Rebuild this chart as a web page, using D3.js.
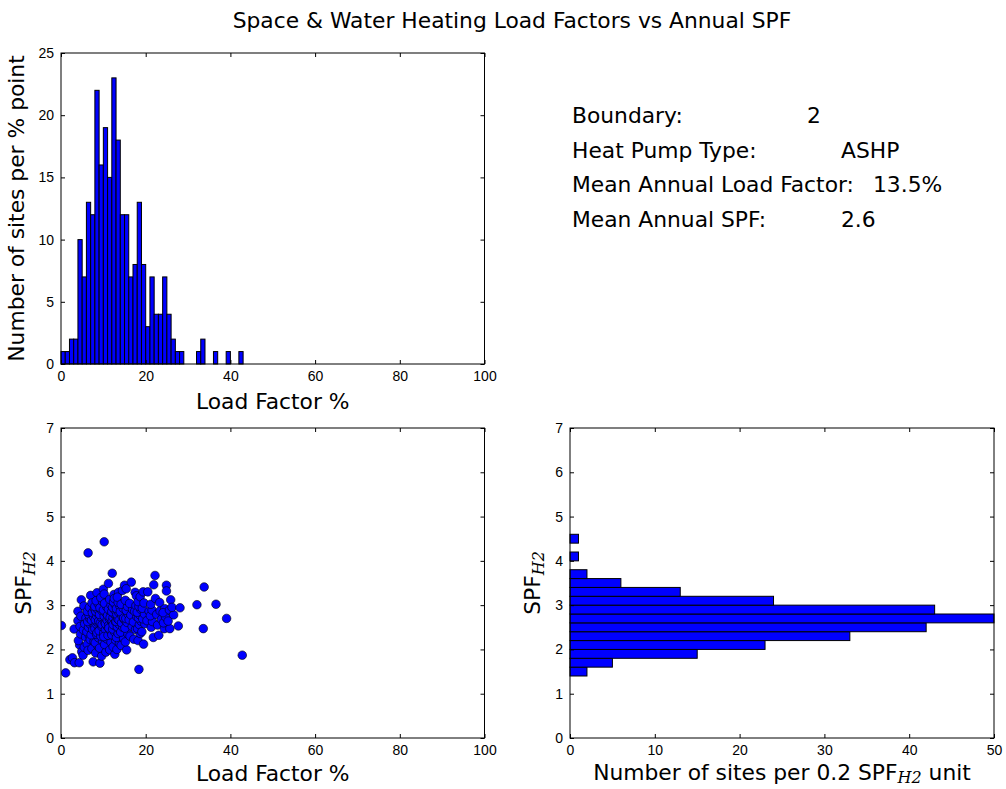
<!DOCTYPE html>
<html>
<head>
<meta charset="utf-8">
<script src="https://cdn.jsdelivr.net/npm/d3@7"></script>
<style>
  body { margin: 0; background: #fff; }
  svg { display: block; font-family: "DejaVu Sans", sans-serif; }
  .tick text { font-size: 14px; fill: #000; }
  .tick line { stroke: #000; }
  .domain { display: none; }
</style>
</head>
<body>
<svg id="chart" width="1006" height="789"></svg>
<script>
// load factor histogram, 1 % bins starting at 0
const lfCounts = [1, 1, 2, 2, 10, 7, 13, 12, 22, 16, 19, 15, 23, 18, 12, 12, 7, 8, 13, 8,
  3, 7, 4, 4, 7, 4, 2, 1, 1, 0, 0, 0, 1, 2, 0, 0, 1, 0, 0, 1, 0, 0, 1]

// SPF histogram, 0.2 bins starting at 1.4
const spfBinStart = [1.4, 1.6, 1.8, 2.0, 2.2, 2.4, 2.6, 2.8, 3.0, 3.2, 3.4, 3.6, 3.8, 4.0, 4.2, 4.4]
const spfCounts = [2, 5, 15, 23, 33, 42, 50, 43, 24, 13, 6, 2, 0, 1, 0, 1]

// [load factor %, SPF]
const sites = [
  [0.1,2.54],[1.1,1.47],[2.1,1.77],[2.7,1.81],[3.2,1.70],[3.1,2.46],
  [4.3,1.70],[4.4,2.10],[4.1,2.20],[4.0,2.65],[4.0,2.86],[4.8,3.12],[4.6,2.35],[4.5,2.52],[4.7,2.75],[4.9,1.95],
  [5.2,1.87],[5.5,2.05],[5.8,2.28],[5.3,2.44],[5.6,2.58],[5.9,2.71],[5.4,2.98],
  [6.4,4.18],[6.2,2.12],[6.7,2.31],[6.1,2.40],[6.5,2.50],[6.9,2.57],[6.3,2.63],[6.8,2.70],[6.6,2.78],[6.2,2.86],[6.7,2.95],[6.4,1.98],[6.9,2.22],
  [7.6,1.72],[7.0,3.22],[7.3,2.02],[7.8,2.18],[7.1,2.33],[7.5,2.45],[7.9,2.55],[7.2,2.66],[7.7,2.74],[7.4,2.83],[7.9,2.92],[7.3,3.05],
  [8.5,3.28],[8.2,1.92],[8.7,2.08],[8.1,2.15],[8.9,2.26],[8.4,2.34],[8.6,2.41],[8.0,2.47],[8.8,2.53],[8.3,2.58],[8.5,2.62],
  [8.1,2.67],[8.9,2.71],[8.4,2.76],[8.7,2.81],[8.2,2.86],[8.6,2.91],[8.0,2.97],[8.8,3.03],[8.3,3.10],[8.5,2.38],[8.9,2.64],
  [9.2,1.69],[9.6,1.85],[9.1,2.03],[9.8,2.19],[9.4,2.30],[9.0,2.42],[9.7,2.51],[9.3,2.60],[9.9,2.68],[9.5,2.73],[9.1,2.79],
  [9.6,2.88],[9.2,2.94],[9.8,3.08],[9.4,3.17],[9.7,2.56],
  [10.2,4.43],[10.0,3.36],[10.2,3.25],[10.6,1.94],[10.3,2.11],[10.8,2.24],[10.1,2.37],[10.5,2.45],[10.9,2.52],[10.4,2.61],
  [10.7,2.69],[10.2,2.75],[10.6,2.82],[10.0,2.89],[10.8,2.96],[10.3,3.04],[10.5,2.58],[10.9,2.66],[10.1,2.29],
  [11.2,3.49],[11.5,1.99],[11.8,2.16],[11.1,2.32],[11.6,2.43],[11.3,2.55],[11.9,2.63],[11.4,2.70],[11.0,2.77],[11.7,2.84],
  [11.2,2.91],[11.8,3.00],[11.5,3.13],[11.3,2.48],[11.6,2.72],
  [12.1,3.72],[12.5,3.24],[12.7,1.89],[12.3,2.06],[12.9,2.21],[12.0,2.33],[12.6,2.40],[12.2,2.46],[12.8,2.53],[12.4,2.59],
  [12.1,2.64],[12.7,2.68],[12.3,2.72],[12.9,2.77],[12.5,2.81],[12.0,2.85],[12.6,2.90],[12.2,2.95],[12.8,3.01],[12.4,3.07],
  [12.6,3.15],[12.3,2.56],[12.9,2.62],
  [13.6,3.29],[13.2,2.00],[13.8,2.14],[13.1,2.27],[13.5,2.36],[13.9,2.44],[13.3,2.51],[13.7,2.57],[13.0,2.63],[13.4,2.69],
  [13.8,2.74],[13.2,2.79],[13.6,2.84],[13.1,2.92],[13.9,2.98],[13.5,3.06],[13.3,3.18],[13.7,2.66],
  [14.5,3.33],[14.2,2.09],[14.8,2.25],[14.1,2.39],[14.6,2.50],[14.3,2.60],[14.9,2.68],[14.4,2.76],[14.0,2.85],[14.7,2.93],
  [14.2,3.02],[14.8,2.71],
  [15.0,3.45],[15.4,3.37],[15.5,1.99],[15.2,2.17],[15.8,2.35],[15.1,2.48],[15.6,2.61],[15.3,2.70],[15.9,2.79],[15.4,2.88],
  [15.7,2.97],[15.2,3.11],
  [16.6,3.52],[16.3,2.30],[16.8,2.52],[16.1,2.67],[16.5,2.78],[16.9,2.90],[16.2,3.04],
  [17.5,3.29],[17.8,3.21],[17.2,2.23],[17.6,2.45],[17.1,2.62],[17.9,2.74],[17.4,2.86],[17.7,2.99],
  [18.4,1.55],[18.2,2.20],[18.7,2.36],[18.1,2.47],[18.5,2.56],[18.9,2.64],[18.3,2.71],[18.6,2.78],[18.0,2.84],[18.8,2.91],
  [18.4,2.97],[18.2,3.08],[18.7,3.19],
  [19.4,3.30],[19.5,2.12],[19.1,2.40],[19.8,2.58],[19.3,2.69],[19.7,2.80],[19.2,2.93],[19.6,3.05],
  [20.5,3.30],[20.3,2.65],[20.8,2.86],
  [21.9,3.46],[21.8,2.27],[21.3,2.50],[21.6,2.63],[21.1,2.76],[21.5,2.89],[21.2,3.02],
  [22.2,3.67],[22.3,3.15],[22.6,2.79],[22.8,2.55],
  [23.1,2.32],[23.4,2.87],[23.7,2.68],[23.3,3.06],
  [24.9,3.45],[24.9,3.32],[24.4,2.47],[24.2,2.60],[24.7,2.73],[24.5,2.92],[24.1,2.83],
  [25.9,3.12],[25.6,2.89],[25.7,2.47],[25.3,2.64],
  [26.6,2.78],[26.2,2.95],[27.7,2.53],[28.1,2.94],[32.1,3.01],[33.8,3.41],[33.6,2.47],
  [36.6,3.02],[39.1,2.70],[42.8,1.87]
]

const infoLabels = ['Boundary:', 'Heat Pump Type:', 'Mean Annual Load Factor:', 'Mean Annual SPF:']
const infoValues = ['2', 'ASHP', '13.5%', '2.6']

const lfTicks = [0, 20, 40, 60, 80, 100]
const countTicks = [0, 5, 10, 15, 20, 25]
const spfTicks = [0, 1, 2, 3, 4, 5, 6, 7]
const siteTicks = [0, 10, 20, 30, 40, 50]

const blue = '#0000ff'
const bigFont = 21.8
const svg = d3.select('#chart')

// panel boxes
const boxTL = { x: 61, y: 53, w: 423.5, h: 311 }
const boxBL = { x: 61, y: 428, w: 423.5, h: 310 }
const boxBR = { x: 570, y: 428, w: 424, h: 310 }

function frame(g, box, xScale, yScale, xTicks, yTicks) {
  const fmt = d3.format('d')
  g.append('g')
    .attr('transform', `translate(0,${box.h})`)
    .call(d3.axisBottom(xScale).tickValues(xTicks).tickFormat(fmt).tickSize(-4).tickPadding(7))
  g.append('g')
    .call(d3.axisTop(xScale).tickValues(xTicks).tickFormat('').tickSize(-4))
  g.append('g')
    .call(d3.axisLeft(yScale).tickValues(yTicks).tickFormat(fmt).tickSize(-4).tickPadding(7))
  g.append('g')
    .attr('transform', `translate(${box.w},0)`)
    .call(d3.axisRight(yScale).tickValues(yTicks).tickFormat('').tickSize(-4))
  g.append('rect')
    .attr('width', box.w)
    .attr('height', box.h)
    .attr('fill', 'none')
    .attr('stroke', '#000')
    .attr('stroke-width', 1)
  g.selectAll('.tick line').attr('stroke-width', 1)
}

function spfLabel(g, x, y) {
  const t = g.append('text')
    .attr('transform', `translate(${x},${y}) rotate(-90)`)
    .attr('text-anchor', 'middle')
    .attr('font-size', bigFont)
  t.append('tspan').text('SPF')
  t.append('tspan')
    .attr('font-family', '"DejaVu Serif", serif')
    .attr('font-style', 'italic')
    .attr('font-size', 16)
    .attr('dy', 4)
    .text('H2')
}

// title
svg.append('text')
  .attr('x', 512)
  .attr('y', 28)
  .attr('text-anchor', 'middle')
  .attr('font-size', bigFont)
  .text('Space & Water Heating Load Factors vs Annual SPF')

// top-left: load factor histogram
{
  const g = svg.append('g').attr('transform', `translate(${boxTL.x},${boxTL.y})`)
  const x = d3.scaleLinear().domain([0, 100]).range([0, boxTL.w])
  const y = d3.scaleLinear().domain([0, 25]).range([boxTL.h, 0])
  g.append('g')
    .selectAll('rect')
    .data(lfCounts.map((c, i) => ({ x0: i, c })).filter((d) => d.c > 0))
    .join('rect')
    .attr('x', (d) => x(d.x0))
    .attr('width', (d) => x(d.x0 + 1) - x(d.x0))
    .attr('y', (d) => y(d.c))
    .attr('height', (d) => y(0) - y(d.c))
    .attr('fill', blue)
    .attr('stroke', '#000')
    .attr('stroke-width', 1)
  frame(g, boxTL, x, y, lfTicks, countTicks)
  g.append('text')
    .attr('x', boxTL.w / 2)
    .attr('y', boxTL.h + 45)
    .attr('text-anchor', 'middle')
    .attr('font-size', bigFont)
    .text('Load Factor %')
  g.append('text')
    .attr('transform', `translate(-37,${boxTL.h / 2}) rotate(-90)`)
    .attr('text-anchor', 'middle')
    .attr('font-size', bigFont)
    .text('Number of sites per % point')
}

// top-right: info text
{
  const g = svg.append('g')
  infoLabels.forEach((t, i) => {
    g.append('text')
      .attr('x', 572)
      .attr('y', 123 + i * 34.5)
      .attr('font-size', bigFont)
      .text(t)
  })
  const valueX = [807, 841, 873, 841]
  infoValues.forEach((t, i) => {
    g.append('text')
      .attr('x', valueX[i])
      .attr('y', 123 + i * 34.5)
      .attr('font-size', bigFont)
      .text(t)
  })
}

// bottom-left: scatter
{
  const g = svg.append('g').attr('transform', `translate(${boxBL.x},${boxBL.y})`)
  const x = d3.scaleLinear().domain([0, 100]).range([0, boxBL.w])
  const y = d3.scaleLinear().domain([0, 7]).range([boxBL.h, 0])
  g.append('clipPath').attr('id', 'clipBL')
    .append('rect').attr('width', boxBL.w).attr('height', boxBL.h)
  g.append('g')
    .attr('clip-path', 'url(#clipBL)')
    .selectAll('circle')
    .data(sites)
    .join('circle')
    .attr('cx', (d) => x(d[0]))
    .attr('cy', (d) => y(d[1]))
    .attr('r', 4.3)
    .attr('fill', blue)
    .attr('stroke', '#000')
    .attr('stroke-width', 0.6)
  frame(g, boxBL, x, y, lfTicks, spfTicks)
  g.append('text')
    .attr('x', boxBL.w / 2)
    .attr('y', boxBL.h + 43)
    .attr('text-anchor', 'middle')
    .attr('font-size', bigFont)
    .text('Load Factor %')
  spfLabel(g, -30, boxBL.h / 2)
}

// bottom-right: SPF histogram
{
  const g = svg.append('g').attr('transform', `translate(${boxBR.x},${boxBR.y})`)
  const x = d3.scaleLinear().domain([0, 50]).range([0, boxBR.w])
  const y = d3.scaleLinear().domain([0, 7]).range([boxBR.h, 0])
  g.append('g')
    .selectAll('rect')
    .data(spfBinStart.map((s, i) => ({ s, c: spfCounts[i] })).filter((d) => d.c > 0))
    .join('rect')
    .attr('x', 0)
    .attr('width', (d) => x(d.c))
    .attr('y', (d) => y(d.s + 0.2))
    .attr('height', (d) => y(d.s) - y(d.s + 0.2))
    .attr('fill', blue)
    .attr('stroke', '#000')
    .attr('stroke-width', 1)
  frame(g, boxBR, x, y, siteTicks, spfTicks)
  const t = g.append('text')
    .attr('x', boxBR.w / 2)
    .attr('y', boxBR.h + 42)
    .attr('text-anchor', 'middle')
    .attr('font-size', bigFont)
  t.append('tspan').text('Number of sites per 0.2 SPF')
  t.append('tspan')
    .attr('font-family', '"DejaVu Serif", serif')
    .attr('font-style', 'italic')
    .attr('font-size', 16)
    .attr('dy', 3)
    .text('H2')
  t.append('tspan').attr('dy', -3).text(' unit')
  spfLabel(g, -30, boxBR.h / 2)
}
</script>
</body>
</html>
